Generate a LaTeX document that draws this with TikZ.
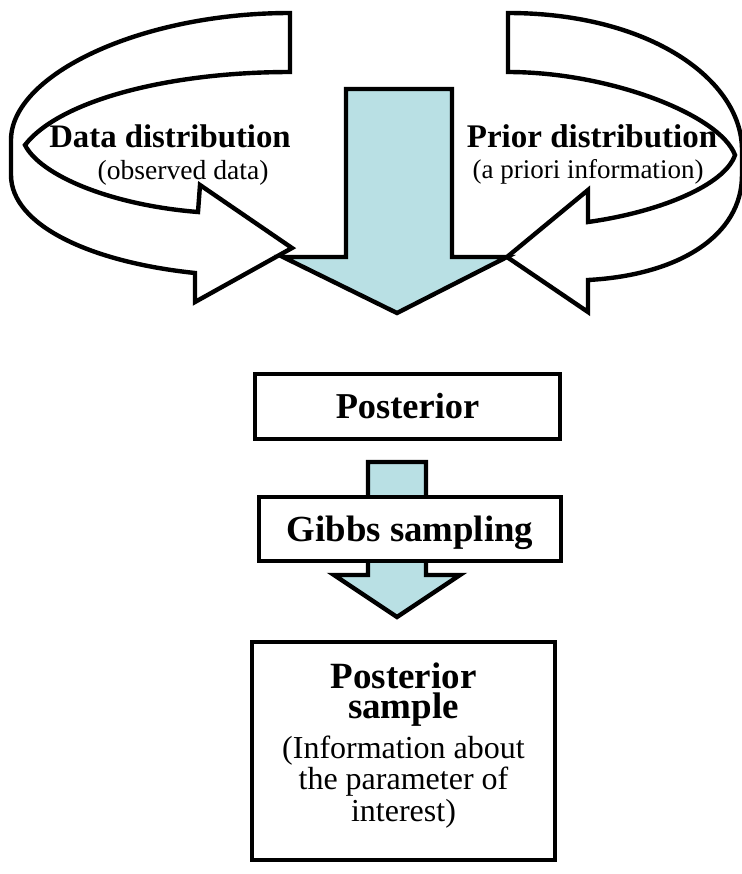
\documentclass[tikz,border=0pt]{standalone}
\usepackage{fontspec}
\setmainfont{Liberation Serif}
\definecolor{lightblue}{RGB}{185,224,228}

\begin{document}
\begin{tikzpicture}[x=0.5pt,y=-0.5pt,line width=2.2pt,align=center,
    box/.style={rectangle,draw,fill=white},
    blockarrow/.style={draw,fill=lightblue},
    ribbon/.style={draw,fill=white}]
    \useasboundingbox (0, 0) rectangle (741, 874);

    % curved arrows
    \draw[ribbon] (290, 13) .. controls (140, 13) and (11, 75) .. (11, 140) -- (11, 175)
        .. controls (11, 225) and (90, 262) .. (195, 273) -- (195, 302) -- (292, 248)
        -- (200, 185) -- (198, 212) .. controls (110, 205) and (40, 175) .. (25, 145)
        .. controls (60, 100) and (170, 72) .. (290, 72) -- cycle;
    \draw[ribbon] (508, 13) .. controls (650, 13) and (742, 80) .. (742, 150) -- (742, 175)
        .. controls (742, 235) and (680, 275) .. (588, 280) -- (588, 312) -- (507, 257)
        -- (588, 190) -- (588, 222) .. controls (660, 212) and (725, 185) .. (735, 155)
        .. controls (720, 115) and (610, 72) .. (508, 72) -- cycle;

    % block arrows
    \draw[blockarrow] (346, 89) -- (452, 89) -- (452, 257) -- (507, 257) -- (397, 313)
        -- (283, 257) -- (346, 257) -- cycle;
    \draw[blockarrow] (368, 462) -- (426, 462) -- (426, 575) -- (460, 575) -- (397, 617)
        -- (334, 575) -- (368, 575) -- cycle;

    \node[box,minimum width=152.5pt,minimum height=32.5pt,font=\fontsize{18.2}{20}\selectfont\bfseries] at (407.5, 406.5) (posterior) {Posterior};
    \node[box,minimum width=151pt,minimum height=32pt,text depth=0pt,font=\fontsize{18.4}{20}\selectfont\bfseries] at (410, 529) (gibbs) {Gibbs sampling};
    \node[box,minimum width=151.5pt,minimum height=109pt,font=\fontsize{16}{15.75}\selectfont] at (403.5, 751) (sample)
        {\textbf{\fontsize{18.5}{15.75}\selectfont Posterior}\\[-0.75pt]
         \textbf{\fontsize{18.5}{15.75}\selectfont sample}\\[4.25pt]
         (Information about\\ the parameter of\\ interest)\rule[-9pt]{0pt}{0pt}};

    \node[anchor=base,font=\fontsize{16.4}{18}\selectfont\bfseries] at (170, 147) (datadist) {Data distribution};
    \node[anchor=base,font=\fontsize{13.8}{16}\selectfont] at (183, 179) (observed) {(observed data)};
    \node[anchor=base,font=\fontsize{16.5}{18}\selectfont\bfseries] at (592, 147) (priordist) {Prior distribution};
    \node[anchor=base,font=\fontsize{13.5}{16}\selectfont] at (588, 178) (apriori) {(a priori information)};
\end{tikzpicture}
\end{document}
